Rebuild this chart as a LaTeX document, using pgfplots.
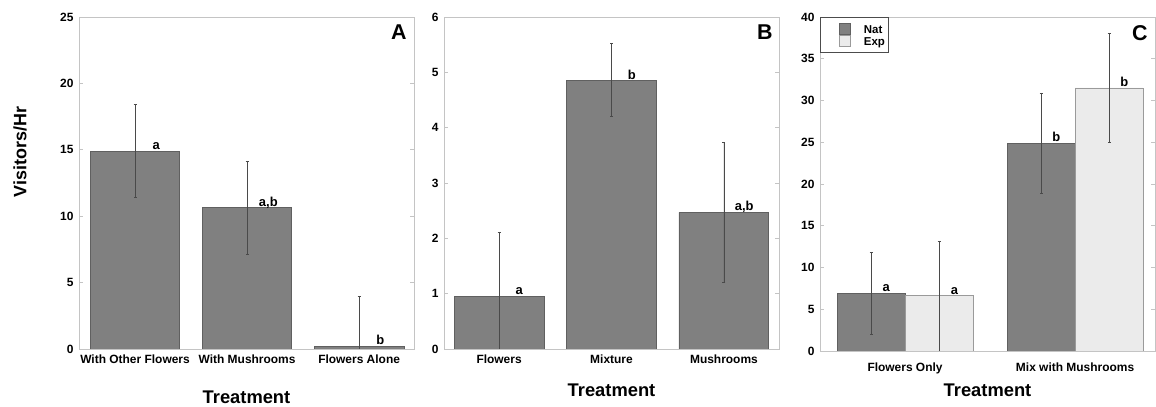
\documentclass[border=0pt]{standalone}
\usepackage{pgfplots}
\pgfplotsset{compat=1.18}
\usepackage{fontspec}
\setmainfont{Liberation Sans}

\definecolor{barNat}{HTML}{808080}
\definecolor{edgeNat}{HTML}{606060}
\definecolor{barExp}{HTML}{EBEBEB}
\definecolor{edgeExp}{HTML}{9A9A9A}
\definecolor{frame}{HTML}{C4C4C4}
\definecolor{errc}{HTML}{4A4A4A}

\tikzset{
  letter/.style={anchor=base, font=\fontsize{13}{14}\selectfont\bfseries, inner sep=0pt, yshift=1.5bp},
  panelname/.style={font=\fontsize{21.5}{24}\selectfont\bfseries, inner sep=0pt},
}

\pgfplotsset{
  panel/.style={
    scale only axis, width=335bp, height=332bp,
    axis line style={frame, line width=0.9bp},
    ymin=0, enlargelimits=false,
    tick align=inside, ytick pos=both,
    xtick style={draw=none},
    ytick style={frame, line width=0.9bp},
    major tick length=4bp,
    tick label style={font=\fontsize{12}{14}\selectfont\bfseries},
    /pgf/number format/assume math mode=true,
    yticklabel style={xshift=-2bp},
    xticklabel style={yshift=-2bp},
    xlabel style={font=\fontsize{18.4}{20}\selectfont\bfseries},
  },
  errstyle/.style={
    error bars/y dir=both, error bars/y explicit,
    error bars/error bar style={errc, line width=0.7bp},
    error bars/error mark options={rotate=90, mark size=1.5bp, errc, line width=0.7bp},
  },
  natbar/.style={ybar, bar shift=0, fill=barNat, draw=edgeNat, line width=0.8bp, errstyle},
  expbar/.style={ybar, bar shift=0, fill=barExp, draw=edgeExp, line width=0.8bp, errstyle},
}

\begin{document}
\begin{tikzpicture}
\useasboundingbox (0,0) rectangle (1156bp,407bp);

% y-axis title shared by the three panels
\node[rotate=90, font=\fontsize{18}{20}\selectfont\bfseries] at (20bp,255bp) {Visitors/Hr};

% Panel A
\begin{axis}[panel, at={(79bp,58bp)}, anchor=south west,
  xmin=-0.5, xmax=2.49, ymax=25, ytick={0,5,...,25},
  xtick={0,1,2}, xticklabels={With Other Flowers, With Mushrooms, Flowers Alone},
  xlabel={Treatment}, xlabel style={at={(axis description cs:0.5,0)}, anchor=center, yshift=-48bp}]
\addplot[natbar, bar width=0.8] coordinates {
  (0,14.9)  += (0,3.5)  -= (0,3.5)
  (1,10.65) += (0,3.45) -= (0,3.55)
  (2,0.2)   += (0,3.75) -= (0,0.2)
};
\node[letter] at (axis cs:0.19,14.9) {a};
\node[letter] at (axis cs:1.19,10.65) {a,b};
\node[letter] at (axis cs:2.19,0.2) {b};
\node[panelname] at (axis description cs:0.955,0.953) {A};
\end{axis}

% Panel B
\begin{axis}[panel, at={(444bp,58bp)}, anchor=south west,
  xmin=-0.49, xmax=2.49, ymax=6, ytick={0,1,...,6},
  xtick={0,1,2}, xticklabels={Flowers, Mixture, Mushrooms},
  xlabel={Treatment}, xlabel style={at={(axis description cs:0.5,0)}, anchor=center, yshift=-41bp}]
\addplot[natbar, bar width=0.8] coordinates {
  (0,0.95) += (0,1.15) -= (0,0.95)
  (1,4.85) += (0,0.67) -= (0,0.65)
  (2,2.47) += (0,1.26) -= (0,1.27)
};
\node[letter] at (axis cs:0.18,0.95) {a};
\node[letter] at (axis cs:1.18,4.85) {b};
\node[letter] at (axis cs:2.18,2.47) {a,b};
\node[panelname] at (axis description cs:0.958,0.954) {B};
\end{axis}

% Panel C
\begin{axis}[panel, at={(820bp,56bp)}, anchor=south west, height=334bp,
  xmin=-0.5, xmax=1.47, ymax=40, ytick={0,5,...,40},
  xtick={0,1}, xticklabels={Flowers Only, Mix with Mushrooms},
  xticklabel style={yshift=-6bp},
  xlabel={Treatment}, xlabel style={at={(axis description cs:0.5,0)}, anchor=center, yshift=-39bp},
  legend style={at={(0,1)}, anchor=north west, draw=black!70, line width=0.9bp, fill=white,
    font=\fontsize{11.5}{12}\selectfont\bfseries, inner xsep=0bp, inner ysep=5.5bp,
    nodes={text height=11bp, text depth=1bp, inner ysep=0bp, inner xsep=3.5bp},
    cells={anchor=west}, row sep=0bp},
  legend image code/.code={\path[draw=none, fill=none] (0bp,0bp) -- (40bp,0bp);
    \draw[#1, line width=0.5bp] (19bp,-5.5bp) rectangle (30bp,5.5bp);}]
\addplot[natbar, bar width=0.4] coordinates {
  (-0.2,6.9) += (0,4.9) -= (0,4.9)
  (0.8,24.9) += (0,6.0) -= (0,6.0)
};
\addlegendentry{Nat}
\addplot[expbar, bar width=0.4] coordinates {
  (0.2,6.6)  += (0,6.5) -= (0,6.6)
  (1.2,31.5) += (0,6.5) -= (0,6.5)
};
\addlegendentry{Exp}
\node[letter] at (axis cs:-0.11,6.9) {a};
\node[letter] at (axis cs:0.29,6.6) {a};
\node[letter] at (axis cs:0.89,24.9) {b};
\node[letter] at (axis cs:1.29,31.5) {b};
\node[panelname] at (axis description cs:0.955,0.952) {C};
\end{axis}
\end{tikzpicture}
\end{document}
